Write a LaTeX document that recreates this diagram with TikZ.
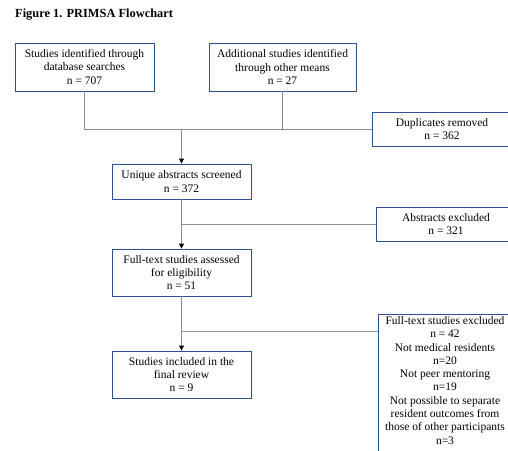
\documentclass[tikz,border=0pt]{standalone}
\usepackage{fontspec}
\setmainfont{Liberation Serif}
\usetikzlibrary{arrows.meta}
\definecolor{boxblue}{HTML}{2F528F}
\definecolor{linegrey}{HTML}{8C8C8C}
\begin{document}
\begin{tikzpicture}[x=1pt,y=-1pt,
  box/.style={draw=boxblue, line width=0.9pt, fill=white, align=center, inner sep=0pt,
    font=\fontsize{11.5}{13.3}\selectfont},
  conn/.style={draw=linegrey, line width=0.9pt},
  arr/.style={conn, -{Triangle[width=5pt,length=5pt,color=black]}}]
\useasboundingbox (0,0) rectangle (508,450);
\clip (0,0) rectangle (508,450);
\node[anchor=west, font=\fontsize{12.4}{14}\selectfont\bfseries, inner sep=0pt] (title) at (15,15) {Figure 1. PRIMSA Flowchart};
\node[box, minimum width=139pt, minimum height=48pt] (b1) at (84.5,67) {Studies identified through\\database searches\\n = 707};
\node[box, minimum width=147pt, minimum height=48pt] (b2) at (282.5,67) {Additional studies identified\\through other means\\n = 27};
\node[box, minimum width=140pt, minimum height=34pt] (dup) at (442,129) {Duplicates removed\\n = 362};
\node[box, minimum width=139pt, minimum height=35pt] (uniq) at (181.5,181.5) {Unique abstracts screened\\n = 372};
\node[box, minimum width=140pt, minimum height=34pt] (abs) at (446,224) {Abstracts excluded\\n = 321};
\node[box, minimum width=139pt, minimum height=47pt] (full) at (181.5,272.5) {Full-text studies assessed\\for eligibility\\n = 51};
\node[box, minimum width=139pt, minimum height=47pt] (incl) at (181.5,374.5) {Studies included in the\\final review\\n = 9};
\node[box, anchor=north, minimum width=134pt, inner ysep=2pt] (excl) at (445,314) {Full-text studies excluded\\n = 42\\Not medical residents\\n=20\\Not peer mentoring\\n=19\\Not possible to separate\\resident outcomes from\\those of other participants\\n=3\\[4pt]};
\coordinate (exin) at ([yshift=-17pt]excl.north west);
\draw[conn] (b1.south) |- (dup.west);
\draw[conn] (b2.south) -- (b2.south |- dup.west);
\draw[arr] (uniq.north |- dup.west) -- (uniq.north);
\draw[arr] (uniq.south) -- (full.north);
\draw[conn] (uniq.south |- abs.west) -- (abs.west);
\draw[arr] (full.south) -- (incl.north);
\draw[conn] (full.south |- exin) -- (exin);
\end{tikzpicture}
\end{document}
